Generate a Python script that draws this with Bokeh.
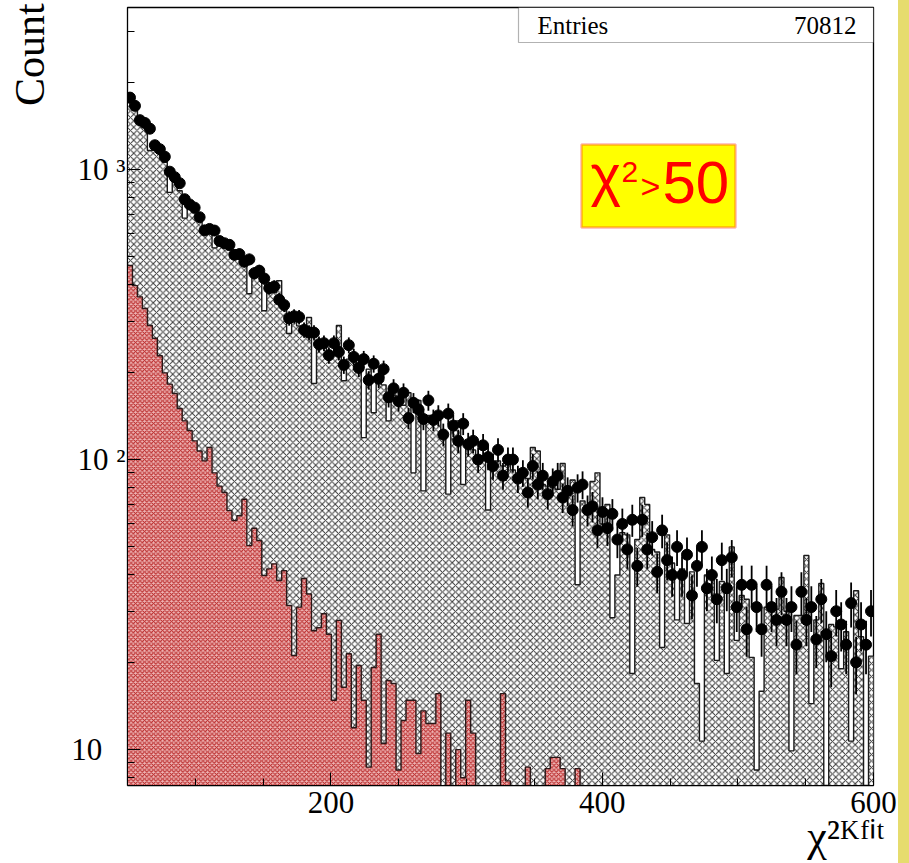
import numpy as np
from bokeh.plotting import figure
from bokeh.models import Range1d, FixedTicker, Label, BoxAnnotation, Div
from bokeh.layouts import row
from bokeh.embed import file_html
from bokeh.resources import INLINE

# ---------------- data ----------------
x_min, x_max, n_bins = 50.0, 600.0, 150

mc_total = [1740, 1600, 1490, 1400, 1163, 1240, 1150, 1060, 834, 910,
            845, 680, 750, 710, 670, 630, 605, 537, 565, 545,
            528, 512, 495, 476, 373, 448, 430, 326, 393, 376,
            414, 330, 272, 300, 289, 280, 309, 183, 252, 244,
            238, 231, 290, 187, 222, 217, 213, 119, 205, 145,
            195, 181, 136, 167, 160, 154, 170, 90, 160, 78,
            142, 139, 137, 119, 76, 126, 136, 82, 112, 108,
            100, 103, 67, 98, 99, 95, 96, 92, 90, 88,
            86, 110, 107, 82, 81, 80, 79, 97, 77, 85,
            37, 72, 68, 84, 90, 60, 70, 28.5, 40, 56,
            55, 18.3, 53, 74, 70, 49, 48, 22.5, 55, 44,
            28, 42, 27.2, 41, 16.9, 10.7, 40, 39, 20.3, 38,
            18.3, 50, 23.8, 34, 33, 20.8, 8.5, 15.9, 31, 31,
            30.5, 39.2, 30, 9.9, 29, 29, 46.7, 14.4, 28, 37.4,
            0, 27, 26.5, 19, 25.5, 10.7, 35.3, 24.5, 0, 21]

mc_red = [467, 398, 364, 332, 290, 262, 228, 199, 182, 169,
          150, 136, 126, 116, 107, 99, 110, 90, 81, 77,
          66.7, 61.6, 64, 73, 50.5, 58, 52.6, 39.8, 42, 43.7,
          38.3, 41.4, 31.4, 21.1, 31, 38.9, 34.4, 25.7, 26.3, 29.4,
          25, 14.8, 27.9, 16.4, 21.4, 11.9, 19.5, 14.8, 8.7, 19.2,
          25, 10.5, 17.3, 16.9, 8.5, 12.6, 14.8, 14.8, 9.7, 13.6,
          12.3, 12.3, 15.6, 0, 11.4, 0, 10, 8, 14.8, 11.4,
          0, 0, 0, 0, 0, 15.6, 7.8, 0, 0, 0,
          8.7, 0, 0, 0, 8.6, 9.4, 9.4, 8.6, 0, 0,
          8.6, 0, 0, 0, 0, 0, 0, 0, 0, 0,
          0, 0, 0, 0, 0, 0, 0, 0, 0, 0,
          0, 0, 0, 0, 0, 0, 0, 0, 0, 0,
          0, 0, 0, 0, 0, 0, 0, 0, 0, 0,
          0, 0, 0, 0, 0, 0, 0, 0, 0, 0,
          0, 0, 0, 0, 0, 0, 0, 0, 0, 0]

data_counts = [1770, 1658, 1480, 1447, 1383, 1213, 1175, 1107, 983, 941,
               897, 790, 758, 739, 685, 617, 624, 616, 567, 557,
               550, 508, 511, 481, 490, 439, 448, 421, 390, 395,
               356, 341, 307, 312, 310, 280, 274, 274, 250, 252,
               229, 252, 235, 212, 248, 226, 207, 222, 188, 214,
               190, 205, 164, 176, 159, 170, 139, 157, 149, 138,
               160, 137, 142, 122, 144, 131, 116, 133, 113, 116,
               100, 112, 102, 95, 108, 88, 100, 100, 86, 90,
               77, 95, 82, 88, 76, 84, 88, 74, 78, 67,
               80, 82, 67, 69, 57, 66, 58, 65, 53, 60,
               49, 62, 43, 62, 49, 54, 41, 57, 45, 40,
               50, 40, 47, 34, 43, 50, 36, 40, 33, 45,
               36, 46, 31, 37, 26, 37, 31, 26, 37, 31,
               28, 35, 28, 31, 23, 35, 28, 31, 24, 33,
               25, 21, 30, 27, 23, 32, 20, 27, 23, 30]

entries = 70812
x_major_ticks = [200, 400, 600]
x_minor_ticks = [100, 150, 250, 300, 350, 450, 500, 550]
y_major_ticks = [10, 100, 1000]
y_minor_ticks = [8, 9, 20, 30, 40, 50, 60, 70, 80, 90,
                 200, 300, 400, 500, 600, 700, 800, 900, 2000, 3000]
y_tick_labels = {10: "10\u2007\u2008", 100: "10 \u00b2", 1000: "10 \u00b3"}
x_title = "\u03c7\u00b2\u1d37\u1da0\u2071\u1d57"
y_title = "Count"

# ---------------- helpers ----------------
edges = np.linspace(x_min, x_max, n_bins + 1)
centers = 0.5 * (edges[:-1] + edges[1:])
floor = 0.1


def step_vals(v):
    v = np.asarray(v, dtype=float)
    v = np.where(v > 0, v, floor)
    return np.append(v, v[-1])


serif = "Liberation Serif"

p = figure(width=898, height=863,
           x_range=Range1d(x_min, x_max), y_range=Range1d(7.52, 3620),
           y_axis_type="log", output_backend="svg", toolbar_location=None,
           min_border_left=127, min_border_right=25,
           min_border_top=7, min_border_bottom=78)
p.background_fill_color = "white"
p.border_fill_color = "white"
p.outline_line_color = "black"
p.outline_line_width = 1.3
p.xgrid.visible = False
p.ygrid.visible = False

# grey (total MC) hatched histogram
tot = step_vals(mc_total)
p.varea_step(x=edges, y1=np.full(len(edges), floor), y2=tot, step_mode="after",
             fill_color="white", hatch_pattern="diagonal_cross",
             hatch_color="#1e1e1e", hatch_scale=6.5, hatch_weight=0.95, hatch_alpha=0.9)
p.step(x=edges, y=tot, mode="after", line_color="#1a1a1a", line_width=1.4)

# red component hatched histogram
red = step_vals(mc_red)
p.varea_step(x=edges, y1=np.full(len(edges), floor), y2=red, step_mode="after",
             fill_color="#eeb4b4", hatch_pattern="diagonal_cross",
             hatch_color="#b82626", hatch_scale=4.5, hatch_weight=1.1, hatch_alpha=1.0)
p.step(x=edges, y=red, mode="after", line_color="#2a1818", line_width=1.4)

# data points with errors
d = np.asarray(data_counts, dtype=float)
err = np.sqrt(d)
p.segment(x0=centers, x1=centers, y0=d - err, y1=d + err,
          line_color="black", line_width=1.8)
p.scatter(x=centers, y=d, size=11, color="black", marker="circle")

# axes
for ax, maj, mnr in ((p.xaxis, x_major_ticks, x_minor_ticks),
                     (p.yaxis, y_major_ticks, y_minor_ticks)):
    ax.ticker = FixedTicker(ticks=maj, minor_ticks=mnr)
    ax.major_tick_in = 13
    ax.major_tick_out = 0
    ax.minor_tick_in = 7
    ax.minor_tick_out = 0
    ax.major_tick_line_color = "black"
    ax.minor_tick_line_color = "black"
    ax.axis_line_color = "black"
    ax.major_label_text_font = serif
    ax.major_label_text_font_size = "31px"
    ax.major_label_text_color = "black"

p.xaxis.major_label_standoff = 6
p.yaxis.major_label_standoff = 2
p.yaxis.major_label_overrides = y_tick_labels

# axis titles: centred on the axis end, padded with fixed-width spaces so the
# visible text sits just before the end, as in the reference
p.xaxis.axis_label = x_title + "\u2007\u2007\u2008"
p.xaxis.axis_label_text_font = serif
p.xaxis.axis_label_text_font_size = "44px"
p.xaxis.axis_label_text_font_style = "normal"
p.xaxis.axis_label_text_color = "black"
p.xaxis.axis_label_standoff = -4
p.xaxis.axis_label_align = "end"

p.yaxis.axis_label = y_title + "\u2007\u2007\u2007\u2007\u2008"
p.yaxis.axis_label_text_font = serif
p.yaxis.axis_label_text_font_size = "42px"
p.yaxis.axis_label_text_font_style = "normal"
p.yaxis.axis_label_text_color = "black"
p.yaxis.axis_label_standoff = 15
p.yaxis.axis_label_align = "end"

# stats box
p.add_layout(BoxAnnotation(left=391, right=746, bottom=743, top=778,
                           left_units="screen", right_units="screen",
                           bottom_units="screen", top_units="screen",
                           fill_color="white", fill_alpha=1.0,
                           line_color="black", line_width=1.2))
p.add_layout(Label(x=410, y=760, x_units="screen", y_units="screen",
                   text="Entries", text_font=serif, text_font_size="25px",
                   text_baseline="alphabetic", text_color="black"))
p.add_layout(Label(x=729, y=760, x_units="screen", y_units="screen",
                   text=str(entries), text_font=serif, text_font_size="25px",
                   text_align="right", text_baseline="alphabetic",
                   text_color="black"))

# yellow cut label box
p.add_layout(BoxAnnotation(left=454, right=608, bottom=558, top=641,
                           left_units="screen", right_units="screen",
                           bottom_units="screen", top_units="screen",
                           fill_color="#ffff00", fill_alpha=1.0,
                           line_color="#ff0000", line_width=2.5))
cut_font = "Liberation Sans"
p.add_layout(Label(x=463, y=611, x_units="screen", y_units="screen",
                   text="\u03c7", text_font=cut_font, text_font_size="58px",
                   text_baseline="alphabetic", text_color="#ff0000"))
p.add_layout(Label(x=494, y=614, x_units="screen", y_units="screen",
                   text="2", text_font=cut_font, text_font_size="30px",
                   text_baseline="alphabetic", text_color="#ff0000"))
p.add_layout(Label(x=513, y=600, x_units="screen", y_units="screen",
                   text=">", text_font=cut_font, text_font_size="34px",
                   text_baseline="alphabetic", text_color="#ff0000"))
p.add_layout(Label(x=535, y=603, x_units="screen", y_units="screen",
                   text="50", text_font=cut_font, text_font_size="60px",
                   text_baseline="alphabetic", text_color="#ff0000"))

strip = Div(text="", width=11, height=863, margin=(0, 0, 0, 0),
            styles={"background-color": "#e6dc6e"})
layout = row(p, strip)

open("out.html", "w").write(file_html(layout, INLINE))
